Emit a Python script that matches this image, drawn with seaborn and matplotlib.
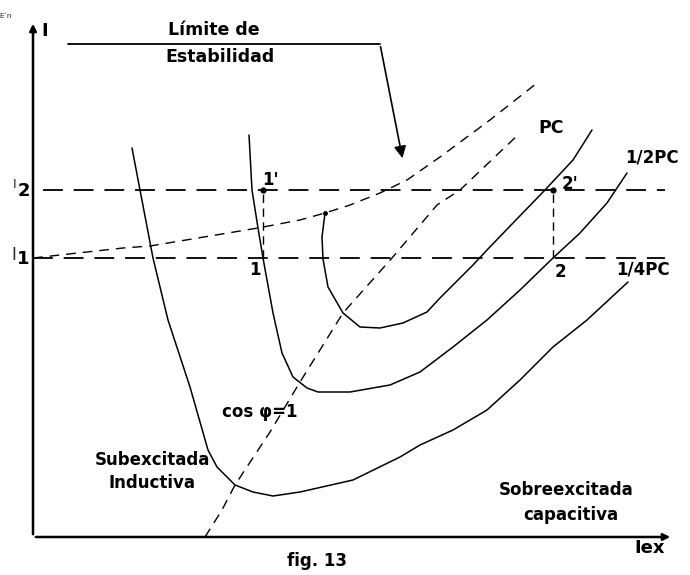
import pandas as pd
import seaborn as sns
import matplotlib.pyplot as plt

### --- Data (Iex on x, I on y, arbitrary units) --- ###
# outer curve (1/4PC)
quarter_x = [9.9, 10.7, 12.0, 13.5, 15.7, 17.5, 18.4, 20.2, 22.0, 24.0, 26.7, 32.0, 36.7, 38.7, 42.0, 45.4, 48.7, 52.0, 55.4, 59.5]
quarter_y = [38.9, 34.7, 27.9, 21.7, 15.0, 8.7, 7.0, 5.2, 4.5, 4.1, 4.5, 5.7, 8.0, 9.2, 10.7, 12.7, 15.7, 19.0, 21.7, 25.5]

# middle curve (1/2PC)
half_x = [21.6, 21.9, 22.5, 23.0, 24.0, 24.9, 26.0, 27.4, 28.5, 31.7, 35.7, 38.7, 42.0, 45.4, 48.7, 52.0, 54.7, 57.4, 59.4]
half_y = [40.2, 34.7, 30.9, 27.9, 22.4, 18.4, 16.0, 14.9, 14.5, 14.5, 15.2, 16.5, 19.0, 21.7, 24.7, 27.9, 30.4, 33.4, 36.4]

# inner curve (PC)
full_x = [29.2, 28.9, 29.0, 29.5, 31.0, 32.7, 34.7, 37.0, 39.4, 40.7, 44.0, 45.4, 48.0, 51.2, 54.0, 55.9]
full_y = [32.4, 30.0, 27.8, 25.0, 22.4, 21.0, 20.9, 21.4, 22.5, 23.9, 27.2, 28.7, 31.4, 34.7, 37.7, 40.7]

# stability limit
limit_x = [0.0, 9.0, 11.7, 22.5, 26.7, 29.2, 31.7, 34.7, 37.4, 40.7, 45.7, 50.4]
limit_y = [27.9, 28.9, 29.1, 30.9, 31.7, 32.4, 33.2, 34.4, 35.7, 38.0, 41.7, 45.4]

# cos(phi) = 1 line
unity_x = [17.2, 18.9, 20.2, 23.7, 26.7, 31.0, 35.9, 40.4, 42.7, 48.7]
unity_y = [0.0, 2.7, 5.2, 10.5, 15.5, 22.4, 27.9, 33.2, 34.7, 40.4]

I1 = 27.9
I2 = 34.7
ops_x = [23.0, 52.0]   # points 1-1' and 2-2'

sns.set_style("white")
plt.rcParams['font.family'] = ['DejaVu Sans']

fig = plt.figure(figsize=(6.9, 5.75), dpi=100)
ax = fig.add_axes([0, 0, 1, 1])
ax.set_xlim(-3.3, 65.7)
ax.set_ylim(-3.8, 53.7)
ax.axis('off')

# V curves
for xs, ys in [(quarter_x, quarter_y), (half_x, half_y), (full_x, full_y)]:
    sns.lineplot(x=xs, y=ys, sort=False, estimator=None, color='black', lw=1.1, ax=ax)

# dashed guide curves
sns.lineplot(x=limit_x, y=limit_y, sort=False, estimator=None, color='black', lw=1.0, ax=ax, linestyle=(0, (7, 5)))
sns.lineplot(x=unity_x, y=unity_y, sort=False, estimator=None, color='black', lw=1.0, ax=ax, linestyle=(0, (7, 5)))

# I1 / I2 levels
ax.plot([1.0, 63.2], [I2, I2], color='black', lw=1.3, ls=(0, (11, 6)))
ax.plot([0.0, 63.2], [I1, I1], color='black', lw=1.3, ls=(0, (11, 6)))

# operating points
for x in ops_x:
    ax.plot([x, x], [I1, I2], color='black', lw=1.0, ls=(0, (6, 4)))
    ax.plot(x, I2, 'o', color='black', ms=3.5)
ax.plot(full_x[0], full_y[0], 'o', color='black', ms=2.5)

# axes with arrows
ax.annotate('', xy=(0, 51.6), xytext=(0, 0),
            arrowprops=dict(arrowstyle='-|>', color='black', lw=1.8, mutation_scale=10))
ax.annotate('', xy=(64.0, 0), xytext=(0, 0),
            arrowprops=dict(arrowstyle='-|>', color='black', lw=1.8, mutation_scale=10))

# stability limit callout
ax.plot([3.5, 34.7], [49.3, 49.3], color='black', lw=1.3)
ax.annotate('', xy=(37.0, 37.6), xytext=(34.7, 49.3),
            arrowprops=dict(arrowstyle='-|>', color='black', lw=1.2, mutation_scale=18))

bold = dict(fontweight='bold', ha='center', va='center', color='black')
ax.text(18.1, 50.7, 'Límite de', fontsize=12.5, **bold)
ax.text(18.7, 48.0, 'Estabilidad', fontsize=12.5, **bold)
ax.text(1.2, 50.6, 'I', fontsize=13, **bold)
ax.text(-1.8, 35.3, 'I', fontsize=9, ha='center', va='center')
ax.text(-0.9, 34.6, '2', fontsize=13, **bold)
ax.text(-1.9, 28.2, 'I', fontsize=12, ha='center', va='center')
ax.text(-1.0, 27.8, '1', fontsize=13, **bold)
ax.text(23.7, 35.7, "1'", fontsize=12, **bold)
ax.text(22.2, 26.7, '1', fontsize=12, **bold)
ax.text(53.7, 35.3, "2'", fontsize=12, **bold)
ax.text(52.7, 26.5, '2', fontsize=12, **bold)
ax.text(51.8, 40.9, 'PC', fontsize=12.5, **bold)
ax.text(61.9, 37.9, '1/2PC', fontsize=12, **bold)
ax.text(61.0, 26.7, '1/4PC', fontsize=12, **bold)
ax.text(22.7, 12.5, 'cos φ=1', fontsize=12, **bold)
ax.text(11.9, 7.7, 'Subexcitada', fontsize=12, **bold)
ax.text(11.9, 5.4, 'Inductiva', fontsize=12, **bold)
ax.text(53.3, 4.7, 'Sobreexcitada', fontsize=12, **bold)
ax.text(53.8, 2.2, 'capacitiva', fontsize=12, **bold)
ax.text(28.4, -2.4, 'fig. 13', fontsize=12, **bold)
ax.text(61.7, -1.1, 'Iex', fontsize=13, **bold)
ax.text(-2.7, 52.1, 'E´n', fontsize=5, ha='center', va='center')

fig.savefig('out.png', dpi=100)
